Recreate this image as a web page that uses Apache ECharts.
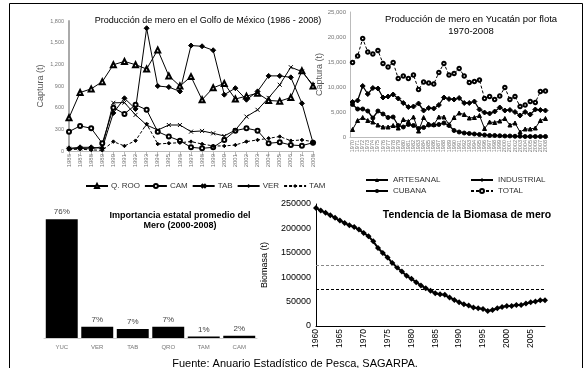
<!DOCTYPE html>
<html><head><meta charset="utf-8">
<script src="https://cdn.jsdelivr.net/npm/echarts@6/dist/echarts.min.js"></script>
<style>html,body{margin:0;padding:0;background:#fff}#c{width:587px;height:368px}</style>
</head><body><div id="c"></div>
<script>
// ---- Golfo de México 1986-2008 ----
const golfoYears = ['1986','1987','1988','1989','1990','1991','1992','1993','1994','1995','1996','1997','1998','1999','2000','2001','2002','2003','2004','2005','2006','2007','2008'];
const qroo = [460,810,860,960,1195,1240,1195,1135,1400,1040,900,1030,710,875,935,720,760,800,700,690,740,1110,900];
const cam  = [268,347,315,107,600,514,640,570,268,200,143,51,37,51,153,282,315,282,107,121,83,74,115];
const tab  = [30,35,30,60,667,670,500,360,290,360,360,268,278,245,208,290,476,570,736,917,1160,1100,915];
const ver  = [37,51,51,37,527,730,583,1700,900,885,825,1460,1450,1395,780,870,710,825,1040,1040,1020,660,115];
const tam  = [20,25,15,10,130,70,143,375,97,107,115,130,97,70,70,83,130,153,176,200,143,153,130];
// ---- Yucatán por flota 1970-2008 ----
const yucYears = ['1970','1971','1972','1973','1974','1975','1976','1977','1978','1979','1980','1981','1982','1983','1984','1985','1986','1987','1988','1989','1990','1991','1992','1993','1994','1995','1996','1997','1998','1999','2000','2001','2002','2003','2004','2005','2006','2007','2008'];
const artesanal  = [1500,3300,3900,3300,3000,2400,2000,2000,2300,1800,3500,3100,4000,1200,3900,2600,2500,4000,4000,2500,3900,4800,4500,3800,3900,4300,1700,3000,2900,3200,3700,2400,2800,1000,1600,1600,1800,3300,3700];
const industrial = [7000,7300,10200,8600,9800,9700,7900,8100,8500,7700,6800,6000,6100,6700,5300,5800,5700,6400,7900,7600,7500,7800,6800,6800,7100,5500,4900,4700,5100,5900,5300,5400,5000,4300,5000,4500,5500,5400,5300];
const cubana     = [6500,5600,5600,5200,3800,5200,4600,3900,4000,2300,2000,2500,2300,1700,1900,2400,2400,2500,2800,2300,1300,1000,800,700,600,500,400,300,300,250,200,200,150,150,100,100,100,100,100];
const total      = [14900,16200,19700,17000,16600,17300,14700,14000,14900,11700,12200,11700,12400,9500,11000,10800,10600,12900,14700,12400,12700,13700,12200,10900,11100,11400,7700,8100,7500,8200,9900,7500,8100,6100,6400,7100,6900,9100,9200];
// ---- Importancia estatal ----
const estados = ['YUC','VER','TAB','QRO','TAM','CAM'];
const importancia = [76,7.2,5.8,7.2,0.9,1.5];
const importanciaLabels = ['76%','7%','7%','7%','1%','2%'];
// ---- Biomasa 1960-2008 ----
const bioYears = ['1960','1961','1962','1963','1964','1965','1966','1967','1968','1969','1970','1971','1972','1973','1974','1975','1976','1977','1978','1979','1980','1981','1982','1983','1984','1985','1986','1987','1988','1989','1990','1991','1992','1993','1994','1995','1996','1997','1998','1999','2000','2001','2002','2003','2004','2005','2006','2007','2008'];
const biomasa = [242000,236600,231900,227000,221600,216000,211300,206400,203100,197500,190700,183800,173500,159900,149600,140600,129000,120000,111700,102900,96700,89900,82900,77500,72000,67300,65200,63800,58200,53500,48800,44700,41800,37700,36400,35000,30900,32900,36400,39100,41200,41200,43200,43200,45900,48800,50000,52900,52900];
const umbrales = [125000, 75000];

const FF = 'Liberation Sans, Arial, sans-serif';
const grey = '#777';
const fmt = v => Number(v).toLocaleString('en-US');
const xSym = 'path://M0,0L10,10M10,0L0,10';

const chart = echarts.init(document.getElementById('c'), null, {renderer:'canvas'});
const lineS = (name, data, xi, symbol, size, extra) => Object.assign({
  name, type:'line', data, xAxisIndex:xi, yAxisIndex:xi, symbol, symbolSize:size, showAllSymbol:true,
  lineStyle:{color:'#000', width:1}, itemStyle:{color:'#000', borderColor:'#000'},
  emphasis:{disabled:true}, z:3
}, extra||{});
const openStyle = {color:'#000', borderColor:'#000', borderWidth:1};

chart.setOption({
  animation:false,
  backgroundColor:'#fff',
  textStyle:{fontFamily:FF},
  title:[
    {text:'Producción de mero en el Golfo de México (1986 - 2008)', left:203, top:11, textAlign:'center',
     textStyle:{fontSize:9, fontWeight:'normal', color:'#000', fontFamily:FF}},
    {text:'Producción de mero en Yucatán por flota\n1970-2008', left:466, top:8, textAlign:'center',
     textStyle:{fontSize:9.5, fontWeight:'normal', color:'#000', lineHeight:12, fontFamily:FF}},
    {text:'Importancia estatal promedio del\nMero (2000-2008)', left:175, top:206, textAlign:'center',
     textStyle:{fontSize:9, fontWeight:'bold', color:'#000', lineHeight:10, fontFamily:FF}},
    {text:'Tendencia de la Biomasa de mero', left:462, top:205, textAlign:'center',
     textStyle:{fontSize:10.5, fontWeight:'bold', color:'#000', fontFamily:FF}},
    {text:'Fuente: Anuario Estadístico de Pesca, SAGARPA.', left:290, top:353, textAlign:'center',
     textStyle:{fontSize:11, fontWeight:'normal', color:'#000', fontFamily:FF}}
  ],
  legend:[
    {data:['Q. ROO','CAM','TAB','VER','TAM'], left:80, top:177, itemWidth:22, itemHeight:5, itemGap:4,
     textStyle:{fontSize:8, color:'#333', padding:[0,0,0,-2]}},
    {data:['ARTESANAL'], left:360, top:171, itemWidth:22, itemHeight:5, textStyle:{fontSize:8, color:'#333'}},
    {data:['INDUSTRIAL'], left:465, top:171, itemWidth:22, itemHeight:5, textStyle:{fontSize:8, color:'#333'}},
    {data:['CUBANA'], left:360, top:182, itemWidth:22, itemHeight:5, textStyle:{fontSize:8, color:'#333'}},
    {data:['TOTAL'], left:465, top:182, itemWidth:22, itemHeight:5, textStyle:{fontSize:8, color:'#333'}}
  ],
  graphic:[
    {type:'rect', shape:{x:9.5, y:3.5, width:573, height:400}, style:{fill:'none', stroke:'#000', lineWidth:1}, silent:true, z:100}
  ],
  grid:[
    {left:69, top:21, width:244, height:130},
    {left:350, top:12, width:198, height:125},
    {left:44, top:213, width:213, height:125},
    {left:316, top:204, width:229, height:122}
  ],
  xAxis:[
    {gridIndex:0, type:'category', data:golfoYears, boundaryGap:false,
     axisLine:{lineStyle:{color:'#bbb'}}, axisTick:{show:true, lineStyle:{color:'#bbb'}},
     axisLabel:{rotate:90, fontSize:6, color:grey, interval:0, margin:3}},
    {gridIndex:1, type:'category', data:yucYears, boundaryGap:true,
     axisLine:{lineStyle:{color:'#bbb'}}, axisTick:{show:false},
     axisLabel:{rotate:90, fontSize:5.5, color:grey, interval:0, margin:3}},
    {gridIndex:2, type:'category', data:estados,
     axisLine:{lineStyle:{color:'#ccc'}}, axisTick:{show:false},
     axisLabel:{fontSize:6, color:grey, margin:6}},
    {gridIndex:3, type:'category', data:bioYears, boundaryGap:false,
     axisLine:{lineStyle:{color:'#000', width:1}}, axisTick:{show:false},
     axisLabel:{rotate:90, fontSize:8.5, color:'#000', interval:4, margin:3}}
  ],
  yAxis:[
    {gridIndex:0, type:'value', min:0, max:1800, interval:300, name:'Captura (t)', nameLocation:'middle', nameGap:24, nameRotate:90,
     nameTextStyle:{fontSize:9, color:'#555'},
     axisLine:{show:true, lineStyle:{color:'#aaa', width:2}}, axisTick:{show:false}, splitLine:{show:false},
     axisLabel:{fontSize:5.5, color:grey, formatter:fmt, margin:5}},
    {gridIndex:1, type:'value', min:0, max:25000, interval:5000, name:'Captura (t)', nameLocation:'middle', nameGap:24, nameRotate:90,
     nameTextStyle:{fontSize:9, color:'#555'},
     axisLine:{show:true, lineStyle:{color:'#bbb'}}, axisTick:{show:false}, splitLine:{show:false},
     axisLabel:{fontSize:6, color:grey, formatter:fmt, margin:4}},
    {gridIndex:2, type:'value', min:0, max:80, show:false, splitLine:{show:false}},
    {gridIndex:3, type:'value', min:0, max:250000, interval:50000, name:'Biomasa (t)', nameLocation:'middle', nameGap:47, nameRotate:90,
     nameTextStyle:{fontSize:9, color:'#000'},
     axisLine:{show:true, lineStyle:{color:'#000'}}, axisTick:{show:false}, splitLine:{show:false},
     axisLabel:{fontSize:9, color:'#000', margin:5, formatter:v => String(v)}}
  ],
  series:[
    lineS('Q. ROO', qroo, 0, 'emptyTriangle', 5, {itemStyle:openStyle}),
    lineS('CAM', cam, 0, 'emptyCircle', 4, {itemStyle:openStyle}),
    lineS('TAB', tab, 0, xSym, 4, {itemStyle:openStyle}),
    lineS('VER', ver, 0, 'diamond', 5),
    lineS('TAM', tam, 0, 'diamond', 3.5, {lineStyle:{color:'#000', width:1, type:[3,2]}}),
    lineS('ARTESANAL', artesanal, 1, 'triangle', 4),
    lineS('INDUSTRIAL', industrial, 1, 'diamond', 5, {lineStyle:{color:'#000', width:1.3}}),
    lineS('CUBANA', cubana, 1, 'circle', 4, {lineStyle:{color:'#000', width:1.3}}),
    lineS('TOTAL', total, 1, 'emptyCircle', 3.5, {lineStyle:{color:'#000', width:1, type:[3,2]}, itemStyle:openStyle}),
    {name:'Importancia', type:'bar', data:importancia, xAxisIndex:2, yAxisIndex:2, barCategoryGap:'10%',
     itemStyle:{color:'#000'},
     label:{show:true, position:'top', distance:3, fontSize:8, color:'#444',
            formatter:p => importanciaLabels[p.dataIndex]}},
    {name:'Biomasa', type:'line', data:biomasa, xAxisIndex:3, yAxisIndex:3, symbol:'diamond', symbolSize:6, showAllSymbol:true,
     lineStyle:{color:'#000', width:2}, itemStyle:{color:'#000'},
     markLine:{silent:true, symbol:'none', label:{show:false},
       data:[{yAxis:umbrales[0], lineStyle:{color:'#888', type:[3,2], width:1}},
             {yAxis:umbrales[1], lineStyle:{color:'#000', type:[3,2], width:1}}]}}
  ]
});
</script>
</body></html>
